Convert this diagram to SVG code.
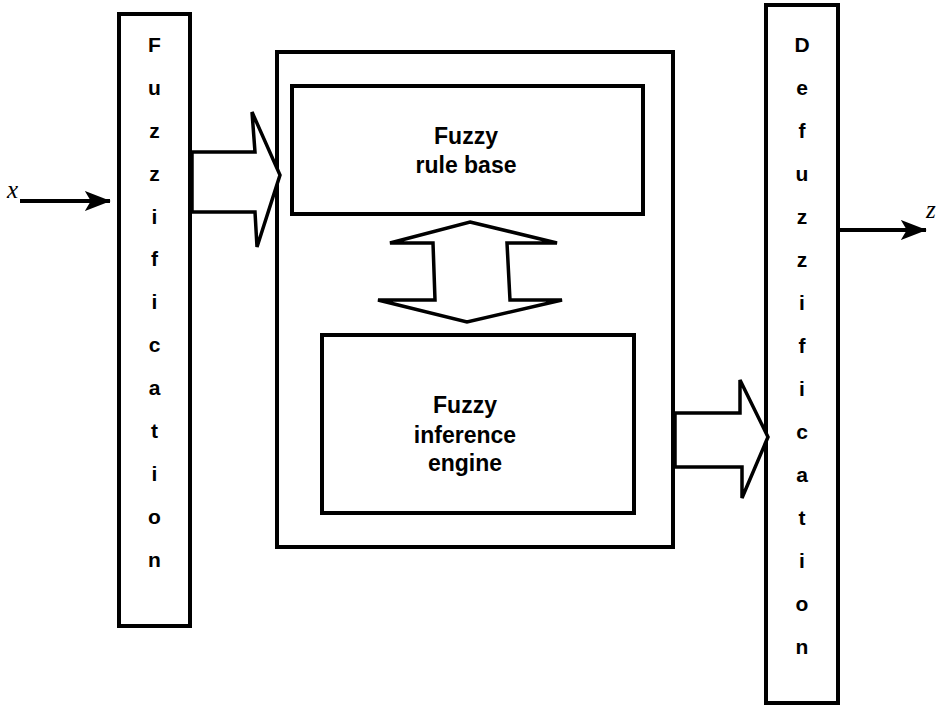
<svg xmlns="http://www.w3.org/2000/svg" width="941" height="709" viewBox="0 0 941 709">
  <style>
    .box { fill: #fff; stroke: #000; stroke-width: 4; }
    .hollow { fill: #fff; stroke: #000; stroke-width: 3.5; stroke-linejoin: miter; }
    .label { font-family: "Liberation Sans", Arial, sans-serif; font-weight: bold; font-size: 23px; text-anchor: middle; fill: #000; }
    .vert { font-family: "Liberation Sans", Arial, sans-serif; font-weight: bold; font-size: 21px; text-anchor: middle; fill: #000; }
    .var { font-family: "Liberation Serif", "Times New Roman", serif; font-style: italic; font-size: 25px; fill: #000; }
    .wire { stroke: #000; stroke-width: 4; fill: none; }
  </style>
  <defs>
    <marker id="head" viewBox="0 0 6.5 5" refX="6.3" refY="2.5" markerWidth="6.5" markerHeight="5" markerUnits="strokeWidth" orient="auto">
      <path d="M0,0 L6.5,2.5 L0,5 L1.5,2.5 Z" fill="#000"/>
    </marker>
  </defs>

  <rect width="941" height="709" fill="#fff"/>

  <!-- input stage -->
  <g id="fuzzification">
    <rect class="box" x="119" y="14" width="71" height="612"/>
    <text class="vert" x="154.5" y="52">F</text>
    <text class="vert" x="154.5" y="95">u</text>
    <text class="vert" x="154.5" y="138">z</text>
    <text class="vert" x="154.5" y="181">z</text>
    <text class="vert" x="154.5" y="224">i</text>
    <text class="vert" x="154.5" y="266">f</text>
    <text class="vert" x="154.5" y="309">i</text>
    <text class="vert" x="154.5" y="352">c</text>
    <text class="vert" x="154.5" y="395">a</text>
    <text class="vert" x="154.5" y="438">t</text>
    <text class="vert" x="154.5" y="481">i</text>
    <text class="vert" x="154.5" y="524">o</text>
    <text class="vert" x="154.5" y="567">n</text>
  </g>

  <!-- controller core -->
  <g id="controller">
    <rect class="box" x="277" y="52" width="396" height="495"/>
  </g>

  <g id="rule-base">
    <rect class="box" x="292" y="86" width="351" height="128"/>
    <text class="label" x="466" y="144">Fuzzy</text>
    <text class="label" x="466" y="173">rule base</text>
  </g>

  <g id="inference-engine">
    <rect class="box" x="322" y="335" width="312" height="178"/>
    <text class="label" x="465" y="413">Fuzzy</text>
    <text class="label" x="465" y="443">inference</text>
    <text class="label" x="465" y="471">engine</text>
  </g>

  <!-- output stage -->
  <g id="defuzzification">
    <rect class="box" x="766" y="5" width="72" height="698"/>
    <text class="vert" x="802" y="52">D</text>
    <text class="vert" x="802" y="95">e</text>
    <text class="vert" x="802" y="138">f</text>
    <text class="vert" x="802" y="181">u</text>
    <text class="vert" x="802" y="224">z</text>
    <text class="vert" x="802" y="267">z</text>
    <text class="vert" x="802" y="310">i</text>
    <text class="vert" x="802" y="353">f</text>
    <text class="vert" x="802" y="396">i</text>
    <text class="vert" x="802" y="439">c</text>
    <text class="vert" x="802" y="482">a</text>
    <text class="vert" x="802" y="525">t</text>
    <text class="vert" x="802" y="568">i</text>
    <text class="vert" x="802" y="611">o</text>
    <text class="vert" x="802" y="654">n</text>
  </g>

  <!-- signal lines and block arrows -->
  <g id="connectors">
    <line class="wire" x1="20" y1="201" x2="110" y2="201" marker-end="url(#head)"/>
    <line class="wire" x1="838" y1="230" x2="926" y2="230" marker-end="url(#head)"/>
    <!-- fuzzification to rule base -->
    <polygon class="hollow" points="192,152 255,152 252,112 280,175 257,247 255,212 192,212"/>
    <!-- rule base <-> inference engine -->
    <polygon class="hollow" points="470,222 557,243 507,243 510,300 562,300 467,322 378,300 435,300 433,243 390,243"/>
    <!-- inference engine to defuzzification -->
    <polygon class="hollow" points="675,413 740,413 740,380 768,437 742,498 742,467 675,467"/>
  </g>

  <g id="x-label"><text class="var" x="7" y="198">x</text></g>
  <g id="z-label"><text class="var" x="926" y="218">z</text></g>
</svg>
